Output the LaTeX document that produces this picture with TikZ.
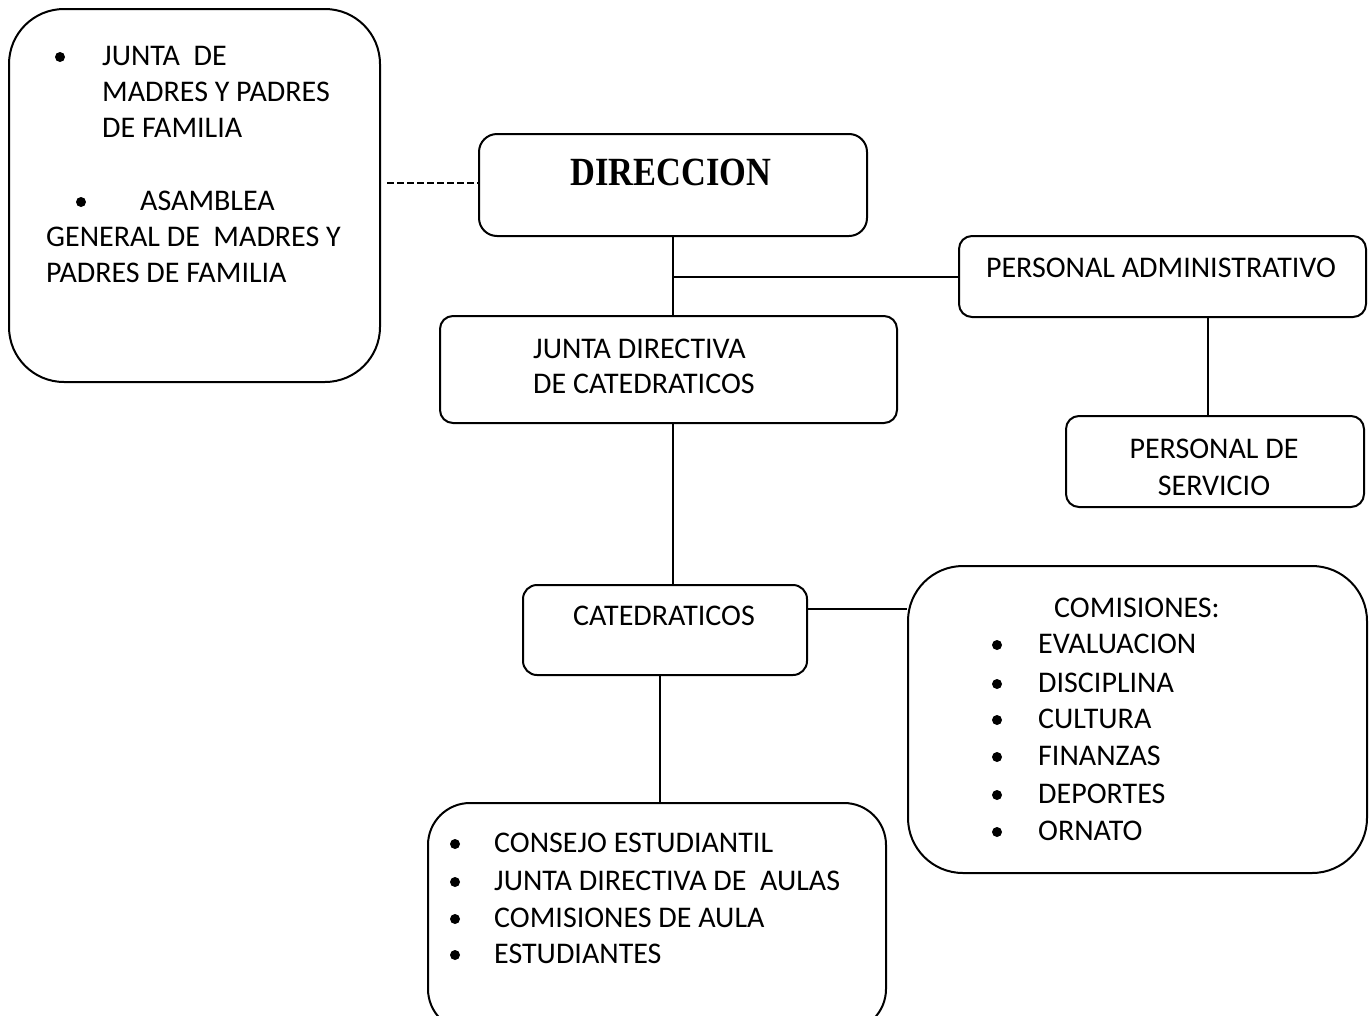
\documentclass[tikz,border=0pt]{standalone}
\usepackage{fontspec}
\setmainfont{Carlito}
\newfontfamily\dirfont{Liberation Serif}
\begin{document}
\begin{tikzpicture}[x=1pt,y=-1pt,
  box/.style={draw,line width=2pt,rounded corners=#1,anchor=north west,inner sep=0pt},
  box/.default=14pt,
  txt/.style={anchor=base west,inner sep=0pt,font=\fontsize{30}{36}\selectfont},
  ctxt/.style={anchor=base,inner sep=0pt,font=\fontsize{30}{36}\selectfont},
  conn/.style={line width=2pt},
  bul/.style={radius=5pt}]
\useasboundingbox (0,0) rectangle (1372,1015);
\clip (0,0) rectangle (1372,1015);
% boxes
\node[box=55pt,minimum width=371pt,minimum height=373pt] (fam) at (8,8) {};
\node[box=18pt,minimum width=388pt,minimum height=102pt] (dir) at (478,133) {};
\node[box=13pt,minimum width=407pt,minimum height=81pt] (adm) at (958,235) {};
\node[box=13pt,minimum width=457pt,minimum height=107pt] (jun) at (439,315) {};
\node[box=13pt,minimum width=298pt,minimum height=91pt] (ser) at (1065,415) {};
\node[box=14pt,minimum width=284pt,minimum height=90pt] (cat) at (522,584) {};
\node[box=55pt,minimum width=459pt,minimum height=307pt] (com) at (907,565) {};
\node[box=42pt,minimum width=458pt,minimum height=228pt] (bot) at (427,802) {};
% texts: left box
\fill (60,57) circle[bul];
\node[txt] (f1) at (102,65) {JUNTA\ \ DE};
\node[txt] (f2) at (102,101) {MADRES Y PADRES};
\node[txt] (f3) at (102,137) {DE FAMILIA};
\fill (81,202) circle[bul];
\node[txt] (f4) at (140,210) {ASAMBLEA};
\node[txt] (f5) at (46,246) {GENERAL DE\ \ MADRES Y};
\node[txt] (f6) at (46,282) {PADRES DE FAMILIA};
% direccion
\node[anchor=base,inner sep=0pt] (dirt) at (671,185) {\scalebox{0.86}[1]{\dirfont\bfseries\fontsize{40}{44}\selectfont DIRECCION}};
% other texts
\node[ctxt] (admt) at (1161,277) {PERSONAL ADMINISTRATIVO};
\node[txt] (jt1) at (533,358) {JUNTA DIRECTIVA};
\node[txt] (jt2) at (533,393) {DE CATEDRATICOS};
\node[ctxt] (st1) at (1214,458) {PERSONAL DE};
\node[ctxt] (st2) at (1214,495) {SERVICIO};
\node[ctxt] (catt) at (664,625) {CATEDRATICOS};
\node[ctxt] (comt) at (1137,617) {COMISIONES:};
\foreach \t/\yy [count=\i] in {EVALUACION/653,DISCIPLINA/692,CULTURA/728,FINANZAS/765,DEPORTES/803,ORNATO/840}{
  \fill (997,\yy-8) circle[bul];
  \node[txt] (c\i) at (1038,\yy) {\t};
}
\foreach \t/\yy [count=\i] in {CONSEJO ESTUDIANTIL/852,JUNTA DIRECTIVA DE\ \ AULAS/890,COMISIONES DE AULA/927,ESTUDIANTES/963}{
  \fill (455,\yy-8) circle[bul];
  \node[txt] (b\i) at (494,\yy) {\t};
}
% connectors
\coordinate (dsh) at (387,183);
\draw[line width=2.6pt,dash pattern=on 7pt off 3pt] (dsh) -- (dsh -| dir.west);
\draw[conn] (dir.south) -- (dir.south |- jun.north);
\draw[conn] (dir.south |- adm.west) -- (adm.west);
\draw[conn] ([xshift=-7pt]ser.north) -- ([xshift=-7pt,yshift=2pt]ser.north |- adm.south);
\draw[conn] (jun.south -| dir.south) -- (cat.north -| dir.south);
\draw[conn] ([yshift=21pt]cat.east) -- ([yshift=21pt]cat.east -| com.west);
\draw[conn] ([xshift=-5pt]cat.south) -- ([xshift=-5pt]cat.south |- bot.north);
\end{tikzpicture}
\end{document}
